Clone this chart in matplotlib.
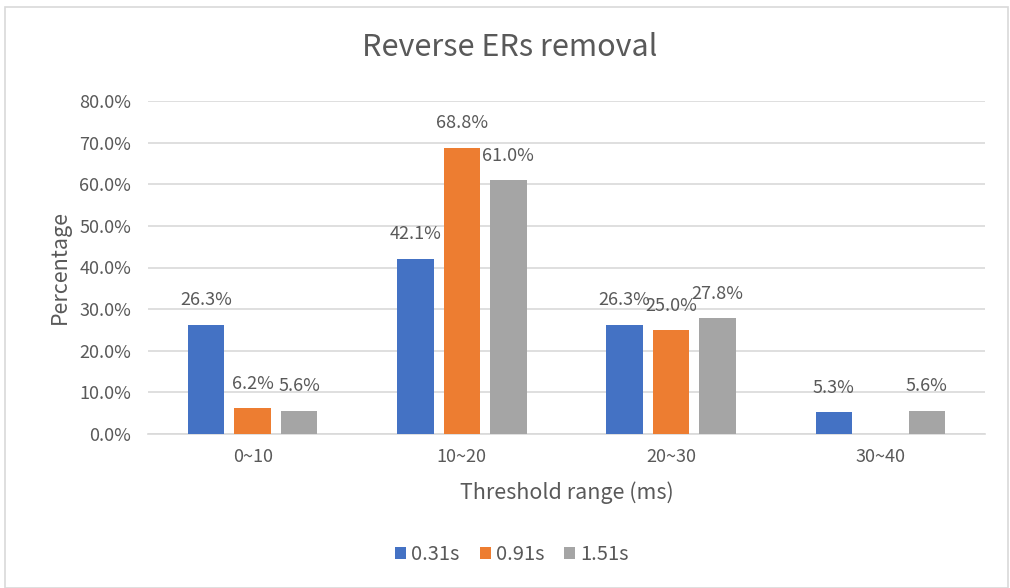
import numpy as np
import matplotlib
matplotlib.use("Agg")
import matplotlib.pyplot as plt
from matplotlib.patches import Rectangle

# data
categories = ["0~10", "10~20", "20~30", "30~40"]
series_names = ["0.31s", "0.91s", "1.51s"]
vals_031 = [26.3, 42.1, 26.3, 5.3]
vals_091 = [6.2, 68.8, 25.0, None]   # no bar for 30~40
vals_151 = [5.6, 61.0, 27.8, 5.6]
colors = ["#4472C4", "#ED7D31", "#A5A5A5"]

txt = "#595959"
fam = ["Noto Sans CJK SC", "DejaVu Sans"]

fig = plt.figure(figsize=(10.1, 5.88), dpi=100)
ax = fig.add_axes([148 / 1010, 1 - 434 / 588, 837 / 1010, 333 / 588])

# light frame around the chart
fig.patches.append(Rectangle((5 / 1010, 0), 1003 / 1010, 1 - 7 / 588,
                             transform=fig.transFigure, fill=False,
                             edgecolor="#D9D9D9", linewidth=1.2))

x = np.arange(len(categories))
w = 0.175
step = 0.222
for i, (vals, c) in enumerate(zip([vals_031, vals_091, vals_151], colors)):
    h = [np.nan if v is None else v for v in vals]
    bars = ax.bar(x + (i - 1) * step, h, w, color=c, label=series_names[i], zorder=3)
    for b, v in zip(bars, vals):
        if v is None:
            continue
        ax.annotate("%.1f%%" % v, (b.get_x() + b.get_width() / 2, v),
                    xytext=(0, 11), textcoords="offset points",
                    ha="center", va="bottom", fontsize=13, color=txt,
                    family=fam)

ax.set_xlim(-0.5, 3.5)
ax.set_ylim(0, 80)
ax.set_yticks(np.arange(0, 81, 10))
ax.set_yticklabels(["%.1f%%" % t for t in np.arange(0, 81, 10)],
                   family=fam, fontsize=13, color=txt)
ax.set_xticks(x)
ax.set_xticklabels(categories, family=fam, fontsize=13, color=txt)
ax.tick_params(length=0, pad=10)
ax.tick_params(axis="y", pad=12)
ax.grid(axis="y", color="#D9D9D9", linewidth=1.2, zorder=0)
for s in ["top", "right", "left"]:
    ax.spines[s].set_visible(False)
ax.spines["bottom"].set_color("#D9D9D9")
ax.spines["bottom"].set_linewidth(1.2)

ax.set_ylabel("Percentage", family=fam, fontsize=15.5, color=txt, labelpad=6)
ax.set_xlabel("Threshold range (ms)", family=fam, fontsize=15.5, color=txt, labelpad=11)
fig.text(510 / 1010, 1 - 47 / 588, "Reverse ERs removal", ha="center", va="center",
         family=fam, fontsize=22, color=txt)

leg = fig.legend(loc="center", bbox_to_anchor=(512 / 1010, 1 - 555 / 588), ncol=3,
                 frameon=False, handlelength=0.55, handleheight=0.55,
                 handletextpad=0.25, columnspacing=1.0,
                 prop={"family": fam, "size": 14.5})
for t in leg.get_texts():
    t.set_color(txt)

fig.savefig("out.png", dpi=100)
